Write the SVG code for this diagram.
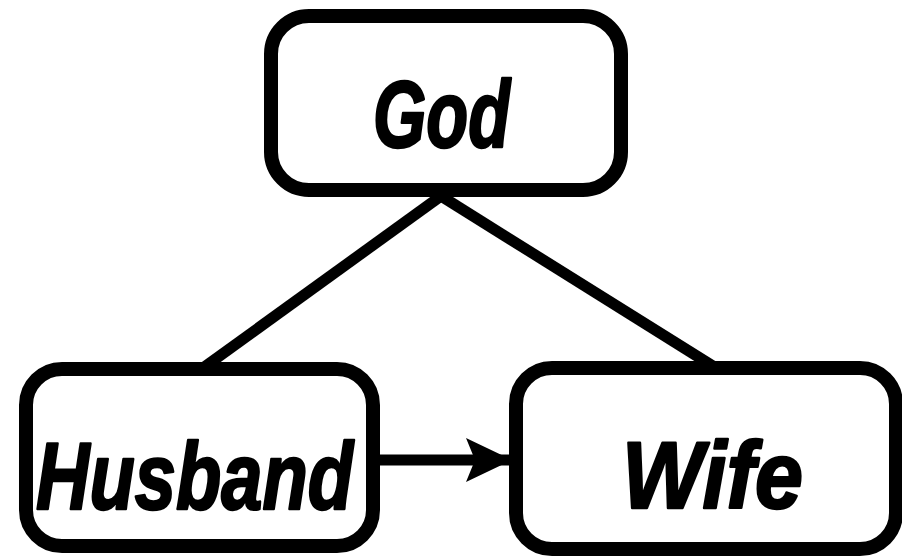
<svg xmlns="http://www.w3.org/2000/svg" width="902" height="556" viewBox="0 0 902 556">
<style>
.box{fill:#fff;stroke:#000;stroke-width:14}
.lbl{font-family:"Liberation Sans",Arial,sans-serif;font-weight:bold;font-style:italic;font-size:94px;fill:#000;stroke:#000;stroke-width:2.5;stroke-linejoin:round}
.conn{stroke:#000;stroke-width:11;fill:none;stroke-linecap:butt}
</style>
<defs>
<marker id="arr" markerUnits="userSpaceOnUse" markerWidth="50" markerHeight="50" refX="46" refY="22" orient="auto">
<path d="M0,0 L46,22 L0,44 L9,22 Z" fill="#000"/>
</marker>
</defs>
<rect width="902" height="556" fill="#fff"/>
<g id="connectors">
<line class="conn" x1="441" y1="196" x2="203" y2="368"/>
<line class="conn" x1="441" y1="196" x2="716" y2="368"/>
<line class="conn" x1="375" y1="460" x2="512" y2="460" stroke-width="13" marker-end="url(#arr)"/>
</g>
<g id="god">
<rect class="box" x="271" y="16" width="350" height="174" rx="38"/>
<text class="lbl" x="373" y="147" textLength="137" lengthAdjust="spacingAndGlyphs">God</text>
</g>
<g id="husband">
<rect class="box" x="26" y="369" width="347" height="177" rx="36"/>
<text class="lbl" x="36" y="509" textLength="317" lengthAdjust="spacingAndGlyphs">Husband</text>
</g>
<g id="wife">
<rect class="box" x="516" y="368" width="380" height="181" rx="36"/>
<text class="lbl" x="622" y="508" textLength="181" lengthAdjust="spacingAndGlyphs">Wife</text>
</g>
</svg>
